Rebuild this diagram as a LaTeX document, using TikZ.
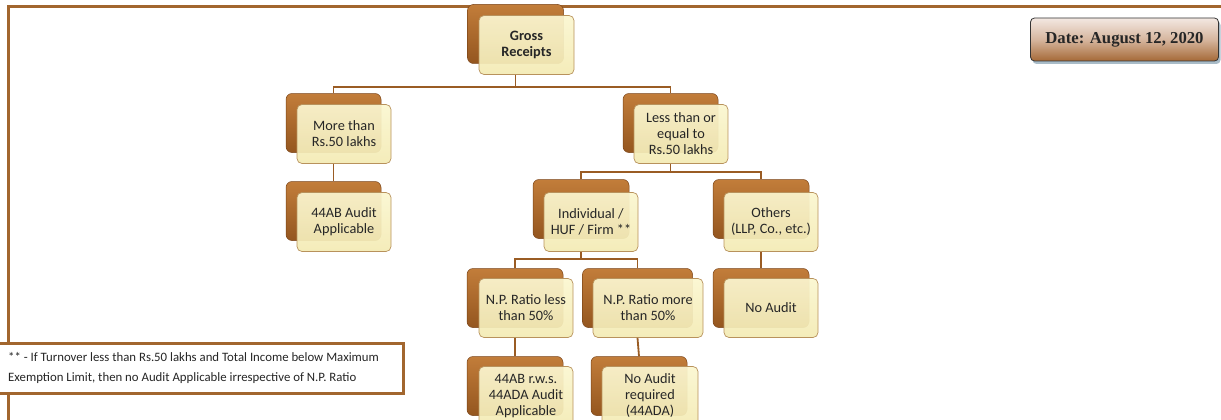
\documentclass[tikz,border=0pt]{standalone}
\usepackage{fontspec}
\setmainfont{Carlito}
\newfontfamily\datefont{Liberation Serif}
\usetikzlibrary{shadows}
\definecolor{frameC}{HTML}{A2662E}
\definecolor{connC}{HTML}{9A5C24}
\definecolor{brownT}{HTML}{C27D3A}
\definecolor{brownB}{HTML}{94561F}
\definecolor{brownD}{HTML}{7A4418}
\definecolor{creamT}{HTML}{FBF6D0}
\definecolor{creamB}{HTML}{F3EBB4}
\definecolor{creamD}{HTML}{B8925C}
\definecolor{dateT}{HTML}{F3E8E2}
\definecolor{dateM}{HTML}{D6B69E}
\definecolor{dateB}{HTML}{A56937}
\definecolor{shadC}{HTML}{A9BCC8}
\tikzset{
  backbox/.style={rounded corners=6pt, top color=brownT, bottom color=brownB,
    draw=brownD, line width=0.5pt, minimum height=59pt, inner sep=0pt},
  frontbox/.style={rounded corners=5pt, top color=creamT, bottom color=creamB,
    draw=creamD, line width=0.7pt, fill opacity=0.93, text opacity=1,
    minimum height=59pt, inner sep=2pt, align=center,
    font=\fontsize{14.3}{16}\selectfont, text=black!85},
  conn/.style={draw=connC, line width=1.8pt},
  frameline/.style={draw=frameC, line width=3pt},
  notebox/.style={draw=frameC, line width=3pt, fill=white, minimum width=406pt,
    minimum height=50pt, inner sep=0pt},
  datebox/.style={rounded corners=4pt, draw=black!80, line width=0.8pt,
    top color=dateT, bottom color=dateB, middle color=dateM,
    minimum width=188pt, minimum height=43pt,
    font=\datefont\bfseries\fontsize{16.7}{18}\selectfont, text=black!85,
    drop shadow={shadow xshift=2pt, shadow yshift=-3pt, fill=shadC, opacity=1}}
}
\begin{document}
\begin{tikzpicture}[x=1pt,y=-1pt]
\useasboundingbox (0,0) rectangle (1221,420);
% frame
\coordinate (fTL) at (8.5,7);
\coordinate (fTR) at (1226,7);
\coordinate (fBL) at (8.5,426);
\draw[frameline] (fBL) -- (fTL) -- (fTR);

% back boxes
\node[backbox, minimum width=96pt] (grB)   at (515.5,34) {};
\node[backbox, minimum width=95pt] (moreB) at (333.5,123) {};
\node[backbox, minimum width=95pt] (abB)   at (333.5,211) {};
\node[backbox, minimum width=95pt] (lessB) at (670.5,123) {};
\node[backbox, minimum width=96pt] (indB)  at (581,209) {};
\node[backbox, minimum width=96pt] (othB)  at (761,209) {};
\node[backbox, minimum width=96pt] (nplB)  at (515,298) {};
\node[backbox, minimum width=110pt] (npmB) at (637.5,298) {};
\node[backbox, minimum width=96pt] (noaB)  at (761,298) {};
\node[backbox, minimum width=96pt] (rwsB)  at (515,386) {};
\node[backbox, minimum width=96pt] (narB)  at (639,386) {};

% junction coordinates
\coordinate (j1) at (515.5,87);
\coordinate (j2) at (670.5,172);
\coordinate (j3) at (581,259);

% front boxes
\node[frontbox, minimum width=95pt, font=\fontsize{14.3}{16}\selectfont\bfseries] (gr) at (526.5,45) {Gross\\Receipts};
\node[frontbox, minimum width=94pt] (more) at (344,134) {More than\\Rs.50 lakhs};
\node[frontbox, minimum width=94pt] (ab)   at (344,222) {44AB Audit\\Applicable};
\node[frontbox, minimum width=94pt] (less) at (681,134) {Less than or\\equal to\\Rs.50 lakhs};
\node[frontbox, minimum width=94pt] (ind)  at (591,222) {Individual /\\HUF / Firm **};
\node[frontbox, minimum width=94pt] (oth)  at (771,222) {Others\\(LLP, Co., etc.)};
\node[frontbox, minimum width=94pt] (npl)  at (526,308) {N.P. Ratio less\\than 50\%};
\node[frontbox, minimum width=110pt] (npm) at (648,308) {N.P. Ratio more\\than 50\%};
\node[frontbox, minimum width=94pt] (noa)  at (771,308) {No Audit};
\node[frontbox, minimum width=94pt] (rws)  at (526,396) {44AB r.w.s.\\44ADA Audit\\Applicable};
\node[frontbox, minimum width=96pt] (nar)  at (650,396) {No Audit\\required\\(44ADA)};

% connectors
\draw[conn] (gr.south -| grB.center) -- (j1);
\draw[conn] (moreB.north) |- (j1) -| (lessB.north);
\draw[conn] (more.south -| moreB.center) -- (abB.north);
\draw[conn] (less.south -| lessB.center) -- (j2);
\draw[conn] (indB.north) |- (j2) -| (othB.north);
\draw[conn] (ind.south -| indB.center) -- (j3);
\draw[conn] (nplB.north) |- (j3) -| (npmB.north);
\draw[conn] (oth.south -| othB.center) -- (noaB.north);
\draw[conn] (npl.south -| nplB.center) -- (rwsB.north);
\draw[conn] (npm.south -| npmB.center) -- (narB.north);

% footnote
\node[notebox] (fn) at (200,368) {};
\node[anchor=west, align=left, inner sep=0pt, text=black!85,
  font=\fontsize{12.8}{20}\selectfont] (fnt) at (8,368)
  {** - If Turnover less than Rs.50 lakhs and Total Income below Maximum\\Exemption Limit, then no Audit Applicable irrespective of N.P. Ratio};

% date
\node[datebox] (date) at (1124.5,39.5) {Date: August 12, 2020};
\end{tikzpicture}
\end{document}
